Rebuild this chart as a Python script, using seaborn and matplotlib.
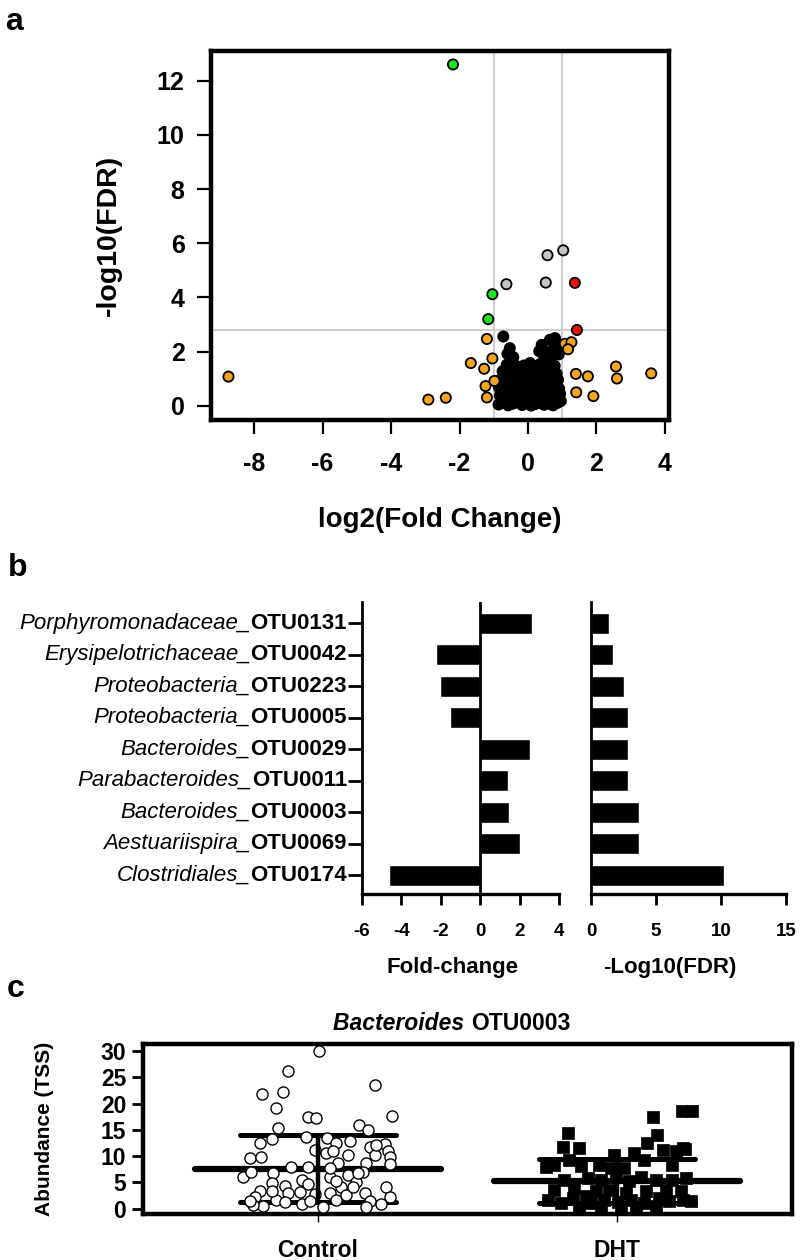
import matplotlib
matplotlib.use('Agg')
import matplotlib.pyplot as plt
import matplotlib.transforms as mtransforms
import seaborn as sns
import pandas as pd

# ---- panel a: volcano plot values ----
black_x = [-0.86, -0.71, -0.58, -0.44, -0.30, -0.17, -0.03, 0.09, 0.22, 0.35, 0.47, 0.60, 0.73, 0.86, 0.96,
           -0.82, -0.66, -0.51, -0.37, -0.24, -0.09, 0.05, 0.18, 0.31, 0.43, 0.57, 0.70, 0.83, 0.94,
           -0.85, -0.69, -0.55, -0.41, -0.27, -0.12, 0.01, 0.14, 0.27, 0.40, 0.53, 0.66, 0.79, 0.91,
           -0.80, -0.63, -0.47, -0.33, -0.19, -0.06, 0.08, 0.20, 0.34, 0.49, 0.62, 0.76, 0.88,
           -0.74, -0.57, -0.40, -0.26, -0.13, 0.00, 0.15, 0.29, 0.44, 0.58, 0.72, 0.84,
           -0.62, -0.45, -0.30, -0.12, 0.06, 0.20, 0.36, 0.50, 0.65, 0.78,
           -0.72, -0.53, -0.43, -0.60, 0.40, 0.55, 0.64, 0.79, 0.84, 0.70, 0.48, 0.33, 0.90]
black_y = [0.05, 0.12, 0.02, 0.08, 0.15, 0.03, 0.10, 0.01, 0.07, 0.13, 0.04, 0.09, 0.02, 0.11, 0.18,
           0.38, 0.31, 0.42, 0.35, 0.29, 0.40, 0.33, 0.44, 0.36, 0.30, 0.41, 0.34, 0.39, 0.45,
           0.68, 0.62, 0.71, 0.60, 0.66, 0.73, 0.59, 0.67, 0.70, 0.63, 0.74, 0.61, 0.69, 0.64,
           0.97, 0.91, 1.02, 0.94, 0.99, 0.90, 1.04, 0.93, 0.98, 1.01, 0.92, 1.05, 0.96,
           1.28, 1.22, 1.31, 1.20, 1.27, 1.33, 1.24, 1.30, 1.21, 1.35, 1.26, 1.19,
           1.52, 1.66, 1.45, 1.49, 1.58, 1.47, 1.55, 1.62, 1.71, 1.48,
           2.56, 2.13, 1.80, 1.92, 2.25, 1.94, 2.44, 2.50, 2.19, 2.05, 1.82, 2.02, 1.90]
orange_x = [-8.75, -2.91, -2.40, -1.20, -1.04, -1.67, -1.28, -1.24, -0.98, -1.20,
            1.08, 1.27, 1.17, 1.40, 1.75, 1.41, 1.91, 2.57, 2.60, 3.60]
orange_y = [1.08, 0.23, 0.30, 2.47, 1.75, 1.58, 1.37, 0.73, 0.92, 0.31,
            2.29, 2.35, 2.09, 1.18, 1.09, 0.50, 0.36, 1.45, 1.01, 1.20]
grey_x = [0.57, 1.03, -0.63, 0.52]
grey_y = [5.56, 5.74, 4.49, 4.55]
green_x = [-2.19, -1.04, -1.16]
green_y = [12.60, 4.12, 3.20]
red_x = [1.37, 1.43]
red_y = [4.54, 2.80]
fc_cut = [-1, 1]
fdr_cut = 2.8

# ---- panel b ----
otu_genus = ['Porphyromonadaceae', 'Erysipelotrichaceae', 'Proteobacteria', 'Proteobacteria',
             'Bacteroides', 'Parabacteroides', 'Bacteroides', 'Aestuariispira', 'Clostridiales']
otu_id = ['OTU0131', 'OTU0042', 'OTU0223', 'OTU0005', 'OTU0029',
          'OTU0011', 'OTU0003', 'OTU0069', 'OTU0174']
fold_change = [2.65, -2.24, -2.04, -1.51, 2.54, 1.42, 1.48, 2.00, -4.63]
neg_log_fdr = [1.36, 1.72, 2.54, 2.87, 2.87, 2.87, 3.67, 3.67, 10.2]

# ---- panel c: abundance per mouse (jitter offset from group centre, value) ----
groups = ['Control', 'DHT']
ctrl_jit = [0.004, -0.10, -0.186, -0.116, -0.138, 0.19, -0.032, -0.007, 0.248, -0.134, 0.138, 0.168,
            -0.154, -0.193, -0.038, 0.031, -0.01, 0.062, 0.107, 0.173, 0.223, 0.029, 0.051, 0.101,
            0.19, 0.234, -0.227, -0.188, 0.24, 0.068, 0.162, 0.243, -0.088, -0.032, -0.249, -0.221,
            -0.149, 0.04, 0.101, 0.151, -0.054, -0.154, -0.11, -0.032, 0.079, 0.129, 0.229, -0.193,
            -0.06, -0.01, 0.04, 0.096, 0.157, 0.24, -0.21, -0.138, -0.182, -0.054, -0.027, 0.018,
            0.062, 0.173, 0.212, -0.099, -0.11, -0.216, 0.162, 0.062, 0.134, 0.196, 0.04, 0.118,
            -0.154, -0.227]
ctrl_val = [30.0, 26.2, 21.8, 22.1, 19.1, 23.5, 17.5, 17.2, 17.6, 15.4, 15.9, 15.0,
            13.3, 12.5, 13.7, 13.4, 11.2, 12.5, 12.8, 11.8, 12.3, 10.6, 10.9, 10.2,
            10.2, 10.9, 9.6, 9.8, 9.9, 8.7, 8.7, 8.5, 8.0, 7.9, 6.1, 6.9,
            6.8, 6.1, 6.5, 6.9, 5.5, 4.9, 4.4, 4.7, 4.2, 5.0, 4.2, 3.3,
            3.1, 2.8, 3.0, 2.7, 3.0, 2.3, 2.3, 1.7, 0.6, 0.9, 1.4, 0.4,
            1.7, 1.4, 0.9, 3.0, 1.2, 0.8, 0.4, 5.2, 6.8, 12.1, 7.7, 4.2,
            3.3, 1.4]
dht_jit = [0.215, 0.248, 0.12, -0.166, 0.131, 0.098, -0.182, -0.127, 0.151, 0.196, 0.227, -0.01,
           0.057, -0.21, -0.16, -0.121, -0.06, -0.021, 0.023, 0.09, 0.184, -0.177, -0.099, -0.054,
           -0.004, 0.04, 0.079, 0.129, 0.184, 0.229, -0.21, -0.143, -0.071, -0.027, 0.029, 0.096,
           0.162, 0.212, -0.232, -0.188, -0.149, -0.104, -0.088, -0.043, 0.001, 0.046, 0.09, 0.14,
           0.173, 0.218, 0.246, -0.127, -0.054, 0.012, 0.062, 0.129, -0.238, 0.218]
dht_val = [18.5, 18.5, 17.5, 14.4, 14.0, 12.5, 11.8, 11.5, 11.2, 10.9, 11.3, 10.2,
           10.6, 8.3, 9.3, 8.2, 8.3, 7.7, 7.7, 9.3, 8.3, 5.5, 5.8, 5.5,
           6.5, 5.2, 6.1, 5.5, 5.5, 5.8, 3.6, 3.9, 3.3, 3.6, 3.0, 3.3,
           3.6, 3.3, 1.7, 1.1, 2.0, 2.5, 1.1, 1.7, 1.2, 1.7, 1.1, 2.0,
           1.4, 1.7, 1.4, 0.1, 0.1, 0.1, 0.4, 0.6, 8.0, 11.5]
group_mean = [7.6, 5.2]
group_low = [1.3, 1.0]
group_high = [14.0, 9.4]

sns.set_style('ticks')
plt.rcParams['font.family'] = ['Liberation Sans', 'DejaVu Sans']
plt.rcParams['font.weight'] = 'bold'
plt.rcParams['axes.labelweight'] = 'bold'
plt.rcParams['axes.unicode_minus'] = False
for key in ['text.color', 'axes.labelcolor', 'xtick.color', 'ytick.color', 'axes.edgecolor']:
    plt.rcParams[key] = 'black'

fig = plt.figure(figsize=(8, 12.6), dpi=100)

# ---------------- panel a ----------------
ax_a = fig.add_axes([0.26375, 0.6667, 0.5725, 0.2929])
volcano = pd.concat([
    pd.DataFrame({'lfc': black_x, 'nlf': black_y, 'group': 'ns'}),
    pd.DataFrame({'lfc': orange_x, 'nlf': orange_y, 'group': 'fc'}),
    pd.DataFrame({'lfc': grey_x, 'nlf': grey_y, 'group': 'fdr'}),
    pd.DataFrame({'lfc': green_x, 'nlf': green_y, 'group': 'down'}),
    pd.DataFrame({'lfc': red_x, 'nlf': red_y, 'group': 'up'}),
], ignore_index=True)
volcano_colors = {'ns': 'black', 'fc': '#f4a51c', 'fdr': '#c4c4c4', 'down': '#1ee61e', 'up': '#ee1010'}
for c in fc_cut:
    ax_a.axvline(c, color='#cfcfcf', lw=1.5, zorder=0)
ax_a.axhline(fdr_cut, color='#cfcfcf', lw=1.5, zorder=0)
sns.scatterplot(data=volcano, x='lfc', y='nlf', hue='group', palette=volcano_colors,
                s=54, edgecolor='black', linewidth=1.3, legend=False, ax=ax_a, zorder=3)
ax_a.set_xlim(-9.26, 4.12)
ax_a.set_ylim(-0.52, 13.1)
ax_a.set_xticks(range(-8, 5, 2))
ax_a.set_yticks(range(0, 13, 2))
for sp in ax_a.spines.values():
    sp.set_linewidth(3.2)
    sp.set_visible(True)
ax_a.tick_params(axis='both', length=10, width=1.6, labelsize=18)
ax_a.tick_params(axis='x', pad=13)
ax_a.tick_params(axis='y', pad=9)
ax_a.set_xlabel('log2(Fold Change)', fontsize=20)
ax_a.set_ylabel('-log10(FDR)', fontsize=20.5)
ax_a.xaxis.set_label_coords(0.5, -0.235)
ax_a.yaxis.set_label_coords(-0.194, 0.5)

# ---------------- panel b ----------------
row_keys = [g + '_' + o for g, o in zip(otu_genus, otu_id)]
ax_fc = fig.add_axes([0.4525, 0.2905, 0.24625, 0.2317])
ax_fdr = fig.add_axes([0.73875, 0.2905, 0.24375, 0.2317])
sns.barplot(x=fold_change, y=row_keys, orient='h', color='black', saturation=1,
            width=0.67, errorbar=None, ax=ax_fc)
sns.barplot(x=neg_log_fdr, y=row_keys, orient='h', color='black', saturation=1,
            width=0.67, errorbar=None, ax=ax_fdr)
ax_fc.axvline(0, color='black', lw=2, zorder=3)
ax_fc.set_xlim(-6, 4)
ax_fc.set_xticks(range(-6, 5, 2))
ax_fc.set_yticks(range(len(row_keys)))
ax_fc.set_yticklabels([])
ax_fdr.set_xlim(0, 15)
ax_fdr.set_xticks([0, 5, 10, 15])
ax_fdr.set_yticks([])
for ax in (ax_fc, ax_fdr):
    ax.set_ylim(8.6, -0.67)
    ax.spines['top'].set_visible(False)
    ax.spines['right'].set_visible(False)
    ax.spines['left'].set_linewidth(2)
    ax.spines['bottom'].set_linewidth(2.4)
    ax.tick_params(axis='x', length=8, width=2, labelsize=13.5, pad=13)
    ax.tick_params(axis='y', length=10, width=2)
    ax.set_ylabel('')
# row names: italic taxon + bold OTU id
label_tr = ax_fc.get_yaxis_transform() + mtransforms.ScaledTranslation(-0.15, 0, fig.dpi_scale_trans)
for i, (g, o) in enumerate(zip(otu_genus, otu_id)):
    t_id = ax_fc.text(0, i, o, transform=label_tr, ha='right', va='center',
                      fontsize=16, fontweight='bold')
    ax_fc.annotate(g + '_', xy=(0, 0), xycoords=t_id, ha='right', va='bottom',
                   fontsize=16, fontweight='normal', style='italic')
ax_fc.set_xlabel('Fold-change', fontsize=16)
ax_fdr.set_xlabel('-Log10(FDR)', fontsize=16)
ax_fc.xaxis.set_label_coords(0.457, -0.215)
ax_fdr.xaxis.set_label_coords(0.405, -0.215)

# ---------------- panel c ----------------
ax_c = fig.add_axes([0.17875, 0.0365, 0.81125, 0.1349])
for i in range(len(groups)):
    ax_c.plot([i - 0.41, i + 0.41], [group_mean[i]] * 2, color='black', lw=4.5,
              solid_capstyle='round', zorder=1)
    for v in (group_low[i], group_high[i]):
        ax_c.plot([i - 0.26, i + 0.26], [v, v], color='black', lw=3.6,
                  solid_capstyle='round', zorder=1)
    ax_c.plot([i, i], [group_low[i], group_high[i]], color='black', lw=3.2, zorder=4)
ctrl = pd.DataFrame({'x': [0 + j for j in ctrl_jit], 'y': ctrl_val})
dht = pd.DataFrame({'x': [1 + j for j in dht_jit], 'y': dht_val})
sns.scatterplot(data=ctrl, x='x', y='y', marker='o', s=64, facecolor='white',
                edgecolor='black', linewidth=1.0, ax=ax_c, zorder=3)
sns.scatterplot(data=dht, x='x', y='y', marker='s', s=68, color='black',
                edgecolor='black', linewidth=0.5, ax=ax_c, zorder=3)
ax_c.set_xlim(-0.583, 1.583)
ax_c.set_ylim(-1, 31.3)
ax_c.set_xticks([0, 1])
ax_c.set_xticklabels(groups)
ax_c.set_yticks(range(0, 31, 5))
for sp in ax_c.spines.values():
    sp.set_linewidth(3.2)
    sp.set_visible(True)
ax_c.tick_params(axis='y', length=8, width=2, labelsize=16.5, pad=4)
ax_c.tick_params(axis='x', length=6, width=1, labelsize=16.5, pad=12)
ax_c.set_xlabel('')
ax_c.set_ylabel('Abundance (TSS)', fontsize=15)
ax_c.yaxis.set_label_coords(-0.137, 0.5)
ax_c.text(0.505, 1.085, 'Bacteroides ', transform=ax_c.transAxes, ha='right', va='baseline',
          fontsize=16.5, fontweight='bold', style='italic')
ax_c.text(0.505, 1.085, 'OTU0003', transform=ax_c.transAxes, ha='left', va='baseline',
          fontsize=16.5, fontweight='bold')

# panel letters
fig.text(0.007, 0.976, 'a', fontsize=23, va='baseline')
fig.text(0.010, 0.543, 'b', fontsize=23, va='baseline')
fig.text(0.008, 0.209, 'c', fontsize=23, va='baseline')

fig.savefig('out.png', dpi=100)
